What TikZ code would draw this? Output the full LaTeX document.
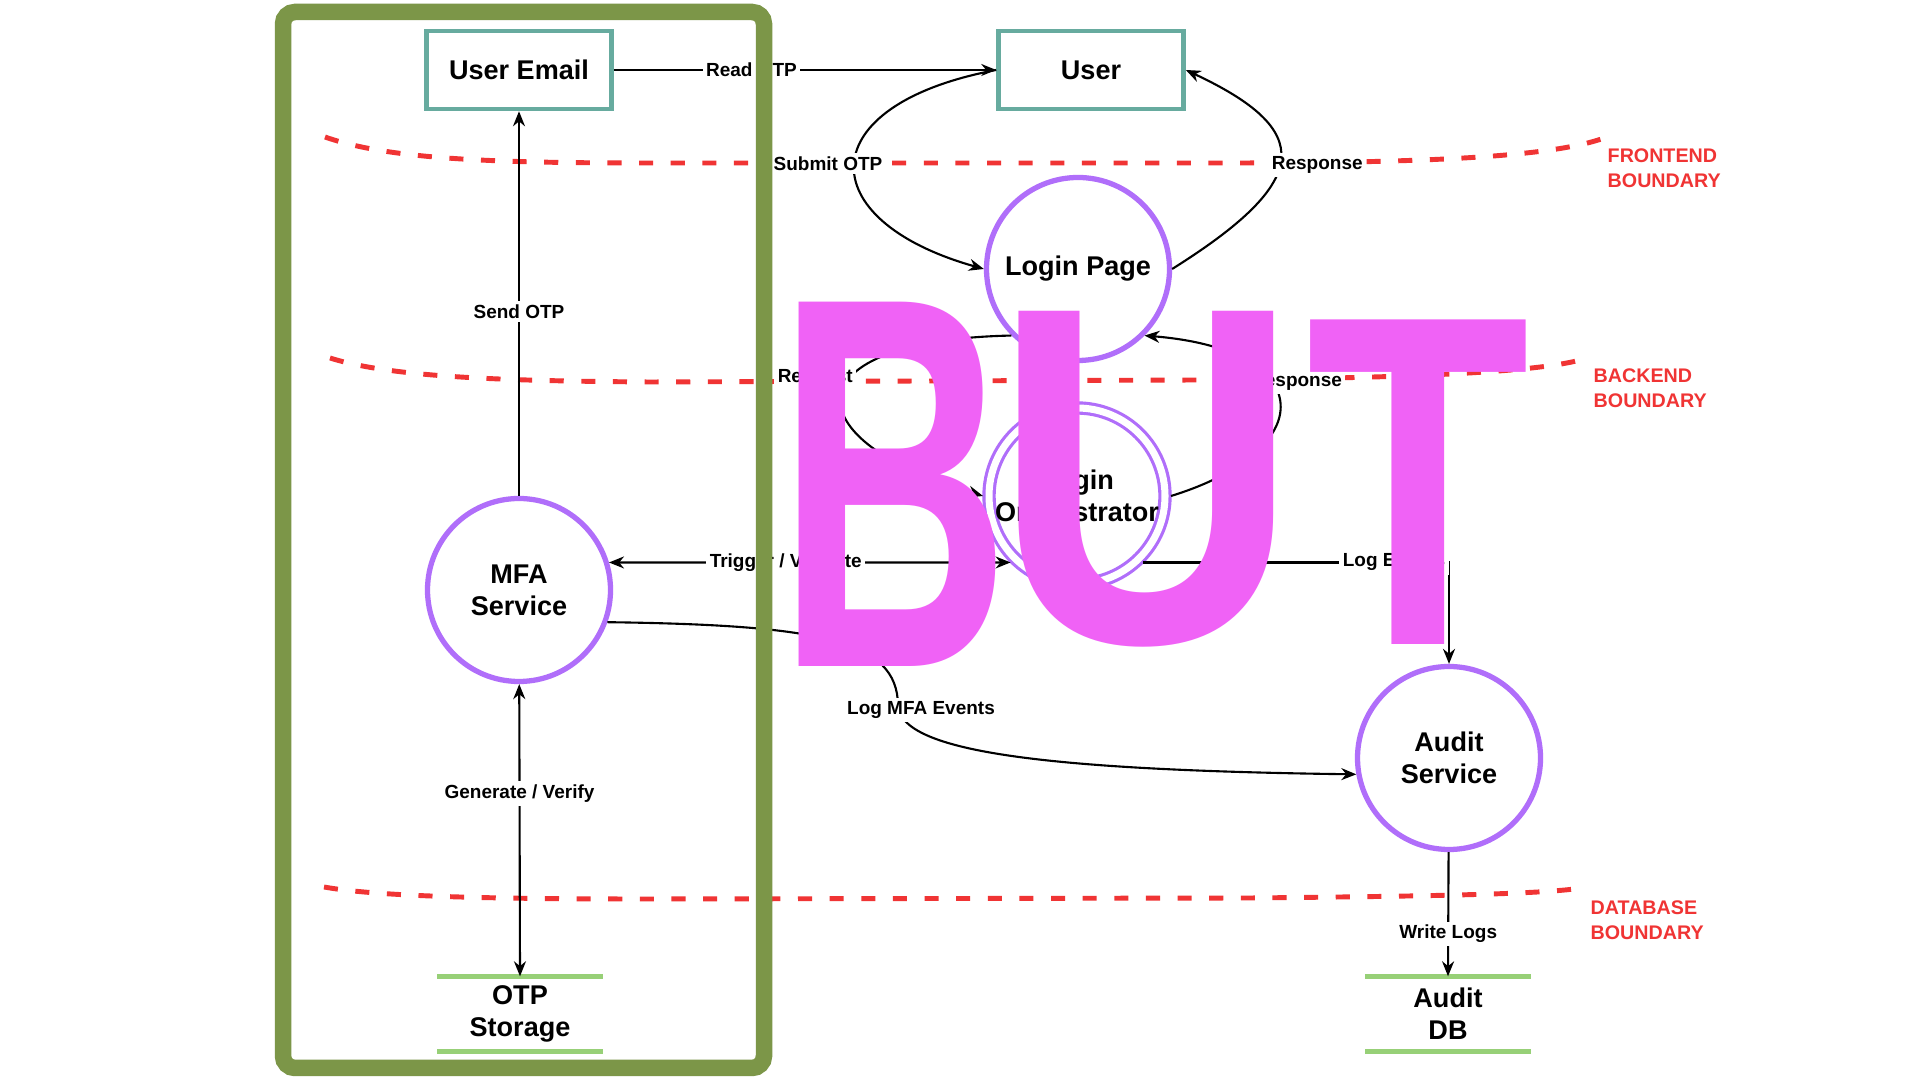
\documentclass[tikz,border=0pt]{standalone}
\usepackage{fontspec}
\setmainfont{Liberation Sans}
\definecolor{tealbox}{RGB}{103,171,159}
\definecolor{procpurple}{RGB}{176,110,250}
\definecolor{bndred}{RGB}{240,52,52}
\definecolor{storegreen}{RGB}{151,208,119}
\definecolor{framegreen}{RGB}{124,150,72}
\definecolor{butpink}{RGB}{240,98,246}
\usetikzlibrary{arrows.meta}

\begin{document}
\begin{tikzpicture}[
  ext/.style={draw=tealbox, line width=1.3pt, minimum width=1.85cm, minimum height=0.78cm, font=\fontsize{7.7}{9.1}\selectfont\bfseries},
  proc/.style={circle, draw=procpurple, line width=1.5pt, minimum size=1.83cm, inner sep=0pt, align=center, font=\fontsize{7.7}{9.1}\selectfont\bfseries},
  dproc/.style={proc, line width=0.9pt, double=white, double distance=2pt, minimum size=1.76cm, outer sep=0.06cm},
  store/.style={minimum width=1.64cm, minimum height=0.74cm, inner sep=0pt, align=center, font=\fontsize{7.7}{9.1}\selectfont\bfseries},
  storeline/.style={draw=storegreen, line width=1.3pt},
  flow/.style={draw=black, line width=0.6pt, -{Stealth[length=1.5mm, width=1.2mm]}},
  dflow/.style={flow, {Stealth[length=1.5mm, width=1.2mm]}-{Stealth[length=1.5mm, width=1.2mm]}},
  lbl/.style={fill=white, inner sep=1pt, font=\fontsize{5.4}{6.4}\selectfont\bfseries},
  bnd/.style={draw=bndred, line width=1.4pt, dash pattern=on 4pt off 5pt},
  bndlbl/.style={text=bndred, anchor=west, align=left, inner sep=0pt, font=\fontsize{5.6}{7.1}\selectfont\bfseries}
]
  \useasboundingbox (0,0) rectangle (19.2,10.8);
  \fill[white] (0,0) rectangle (19.2,10.8);

  \draw[bnd] (3.25,9.43) .. controls (3.9,9.2) and (5.0,9.17) .. (6.5,9.17) -- (12.3,9.17) .. controls (14.5,9.17) and (15.6,9.25) .. (16.07,9.43);
  \draw[bnd] (3.30,7.22) .. controls (3.9,7.03) and (5.0,6.99) .. (6.5,6.98) -- (12.0,7.0) .. controls (14.2,7.02) and (15.5,7.08) .. (15.9,7.23);
  \draw[bnd] (3.24,1.93) .. controls (3.8,1.83) and (5.0,1.81) .. (6.5,1.81) -- (12.5,1.82) .. controls (14.5,1.84) and (15.5,1.86) .. (15.88,1.93);
  \node[bndlbl] (fe) at (16.07,9.115) {FRONTEND\\BOUNDARY};
  \node[bndlbl] (be) at (15.93,6.92) {BACKEND\\BOUNDARY};
  \node[bndlbl] (db) at (15.90,1.60) {DATABASE\\BOUNDARY};

  \node[ext] (useremail) at (5.19,10.10) {User Email};
  \node[ext] (user) at (10.91,10.10) {User};
  \node[proc] (login) at (10.78,8.11) {Login Page};
  \node[dproc] (orch) at (10.77,5.84) {Login\\Orchestrator};
  \node[proc] (mfa) at (5.19,4.90) {MFA\\Service};
  \node[proc] (audit) at (14.49,3.22) {Audit\\Service};
  \node[store] (otp) at (5.20,0.66) {OTP\\Storage};
  \node[store] (auditdb) at (14.48,0.66) {Audit\\DB};
  \draw[storeline] (otp.north west) -- (otp.north east);
  \draw[storeline] (otp.south west) -- (otp.south east);
  \draw[storeline] (auditdb.north west) -- (auditdb.north east);
  \draw[storeline] (auditdb.south west) -- (auditdb.south east);

  \draw[flow] (useremail) -- node[lbl, pos=0.36] {Read OTP} (user);
  \draw[flow] (mfa) -- node[lbl, pos=0.48] {Send OTP} (useremail);
  \draw[dflow] (mfa) -- node[lbl, pos=0.375] {Generate / Verify} (otp.north);
  \draw[flow] (user.west) .. controls (8.1,9.75) and (8.1,8.6) .. node[lbl, pos=0.5, xshift=-0.27cm, yshift=0.01cm] {Submit OTP} (login.west);
  \draw[flow] (login.east) .. controls (13.14,9.0) and (13.14,9.5) .. node[lbl, pos=0.5, xshift=0.37cm, yshift=-0.06cm] {Response} (user.east);
  \draw[flow] (login.225) .. controls (7.9,7.4) and (7.9,6.4) .. node[lbl, pos=0.4, xshift=-0.35cm] {Request} (orch.west);
  \draw[flow] (orch.east) .. controls (13.2,6.3) and (13.2,7.3) .. node[lbl, pos=0.6, xshift=0.24cm, yshift=0.03cm] {Response} (login.-45);
  \draw[dflow] (orch.225) -- node[lbl, pos=0.56] {Trigger / Validate} (mfa.17);
  \draw[flow] (orch.-45) -| node[lbl, pos=0.41] {Log Events} (audit.north);
  \draw[flow] (mfa.-20) .. controls (8.2,4.55) and (8.97,4.4) .. (8.98,3.75) node[lbl, xshift=0.23cm, yshift=-0.05cm] {Log MFA Events} .. controls (9.0,3.3) and (10.3,3.1) .. (audit.190);
  \draw[flow] (audit) -- node[lbl, pos=0.66] {Write Logs} (auditdb.north);

  \draw[framegreen, line width=0.165cm, rounded corners=0.12cm] (2.83,0.12) rectangle (7.64,10.68);

  \node[anchor=base west, text=butpink, inner sep=0pt] (but) at (7.77,4.25) {\fontsize{137}{137}\selectfont\bfseries\raisebox{-0.12cm}{\scalebox{0.67}[1.1]{B}}\hspace{-0.175cm}\raisebox{0.12cm}{\scalebox{0.88}[1]{U}}\hspace{0.07cm}\raisebox{0.1cm}{\scalebox{0.76}[0.98]{T}}};
\end{tikzpicture}
\end{document}
